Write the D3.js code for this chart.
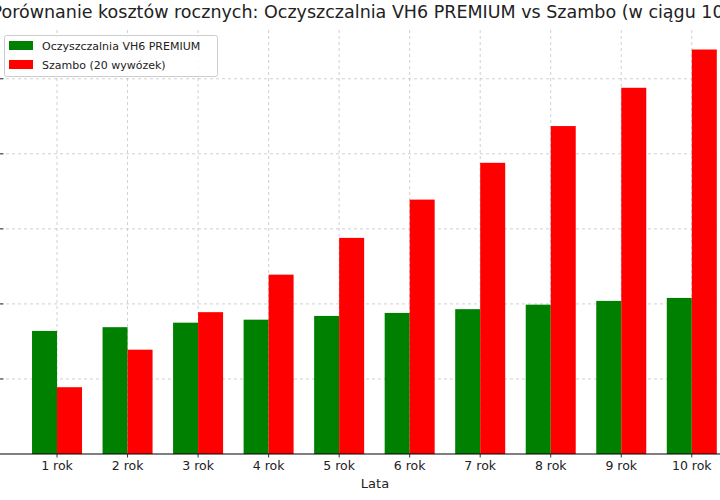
<!DOCTYPE html>
<html><head><meta charset="utf-8">
<script src="https://cdn.jsdelivr.net/npm/d3@7"></script>
<style>body{margin:0;background:#fff;font-family:"DejaVu Sans",sans-serif}</style>
</head><body><svg id="chart" width="720" height="500"></svg>
<script>
const years = ["1 rok","2 rok","3 rok","4 rok","5 rok","6 rok","7 rok","8 rok","9 rok","10 rok"];
const vh6Costs = [16400,16900,17500,17900,18400,18800,19300,19900,20400,20800];
const szamboCosts = [8900,13900,18900,23900,28800,33900,38800,43700,48800,53900];
const yTicks = [0,10000,20000,30000,40000,50000];

const svg = d3.select("#chart");
const plotTop = 30, plotBottom = 454;

const x = d3.scaleLinear().domain([-0.8, 9.4]).range([0.6, 720]);
const y = d3.scaleLinear().domain([0, 56500]).range([plotBottom, plotTop]);
const barW = 25;

// grid
svg.append("g").selectAll("line").data(years).join("line")
  .attr("x1", (d, i) => x(i)).attr("x2", (d, i) => x(i))
  .attr("y1", plotTop).attr("y2", plotBottom)
  .attr("stroke", "#b0b0b0").attr("stroke-dasharray", "3,3").attr("stroke-width", 0.6);
svg.append("g").selectAll("line").data(yTicks.slice(1)).join("line")
  .attr("x1", 0).attr("x2", 720).attr("y1", d => y(d)).attr("y2", d => y(d))
  .attr("stroke", "#b0b0b0").attr("stroke-dasharray", "3,3").attr("stroke-width", 0.6);
svg.append("g").selectAll("line").data(yTicks.slice(1)).join("line")
  .attr("x1", 0).attr("x2", 3.5).attr("y1", d => y(d)).attr("y2", d => y(d))
  .attr("stroke", "#000").attr("stroke-width", 0.8);

// bars
svg.append("g").selectAll("rect").data(vh6Costs).join("rect")
  .attr("x", (d, i) => x(i) - barW).attr("width", barW)
  .attr("y", d => y(d)).attr("height", d => y(0) - y(d)).attr("fill", "#008000");
svg.append("g").selectAll("rect").data(szamboCosts).join("rect")
  .attr("x", (d, i) => x(i)).attr("width", barW)
  .attr("y", d => y(d)).attr("height", d => y(0) - y(d)).attr("fill", "#ff0000");

// x axis
svg.append("line").attr("x1", 0).attr("x2", 720).attr("y1", plotBottom).attr("y2", plotBottom)
  .attr("stroke", "#000").attr("stroke-width", 1);
svg.append("g").selectAll("text").data(years).join("text")
  .attr("x", (d, i) => x(i)).attr("y", 470).attr("text-anchor", "middle")
  .attr("font-size", 12.5).attr("fill", "#222").text(d => d);
svg.append("g").selectAll("line").data(years).join("line")
  .attr("x1", (d, i) => x(i)).attr("x2", (d, i) => x(i)).attr("y1", plotBottom).attr("y2", plotBottom + 3.5)
  .attr("stroke", "#000").attr("stroke-width", 0.8);
svg.append("text").attr("x", 375).attr("y", 488).attr("text-anchor", "middle")
  .attr("font-size", 13).attr("fill", "#222").text("Lata");

// title
svg.append("text").attr("x", 375).attr("y", 18).attr("text-anchor", "middle")
  .attr("font-size", 17.5).attr("fill", "#222")
  .text("Porównanie kosztów rocznych: Oczyszczalnia VH6 PREMIUM vs Szambo (w ciągu 10 lat)");

// legend
const legend = svg.append("g");
legend.append("rect").attr("x", 4.5).attr("y", 35.5).attr("width", 213).attr("height", 41)
  .attr("fill", "#fff").attr("fill-opacity", 0.85).attr("stroke", "#ccc").attr("rx", 2);
[["Oczyszczalnia VH6 PREMIUM", "#008000"], ["Szambo (20 wywózek)", "#ff0000"]].forEach(([t, c], i) => {
  legend.append("rect").attr("x", 9).attr("y", 41 + i * 19).attr("width", 24).attr("height", 9).attr("fill", c);
  legend.append("text").attr("x", 42).attr("y", 50 + i * 19).attr("font-size", 11).attr("fill", "#222").text(t);
});
</script></body></html>
